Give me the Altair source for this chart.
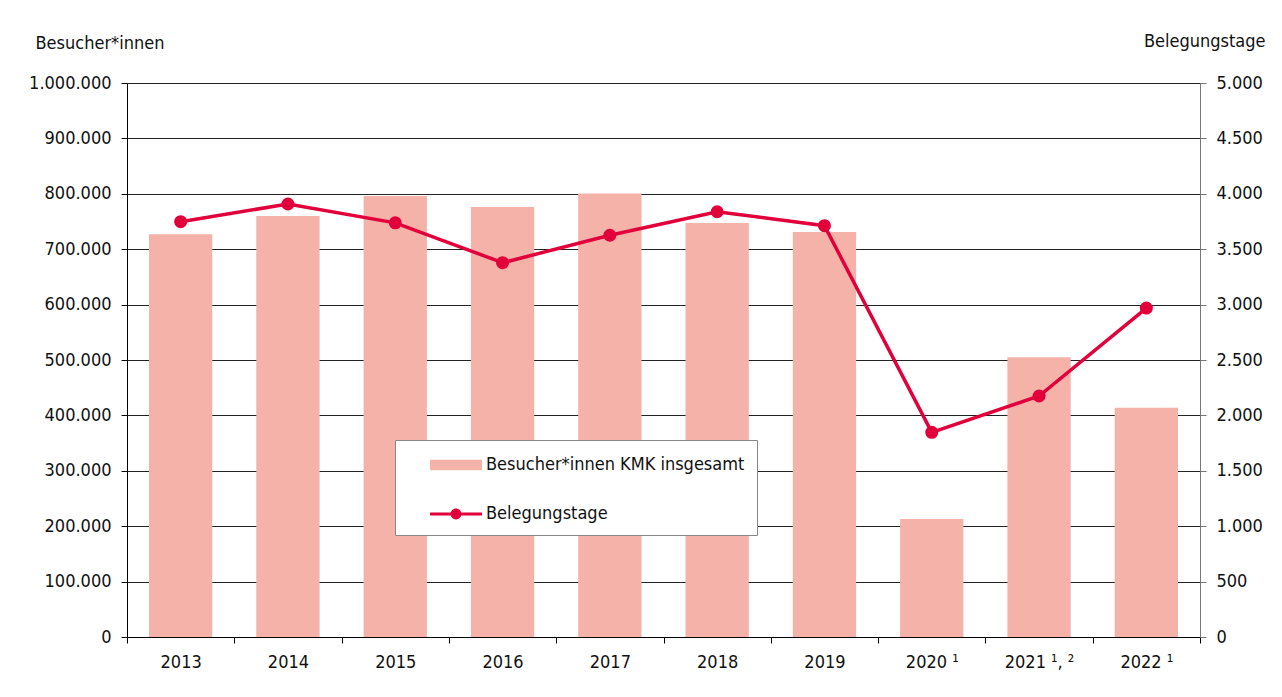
import altair as alt
import pandas as pd

years = ["2013", "2014", "2015", "2016", "2017", "2018", "2019",
         "2020 ¹", "2021 ¹, ²", "2022 ¹"]
visitors = [727000, 760000, 796000, 776000, 800500, 747500, 731000,
            213000, 505000, 414000]
occupancy_days = [3748, 3908, 3738, 3378, 3626, 3838, 3712, 1847, 2175, 2969]

BAR_NAME = "Besucher*innen KMK insgesamt"
LINE_NAME = "Belegungstage"
left_ticks = [0, 100000, 200000, 300000, 400000, 500000, 600000,
              700000, 800000, 900000, 1000000]
right_ticks = [0, 500, 1000, 1500, 2000, 2500, 3000, 3500, 4000, 4500, 5000]

PINK = "#F4B2A9"
RED = "#E2003B"
FONT = "DejaVu Sans Condensed, sans-serif"
FS = 18
FMT = "replace(format(datum.value, ','), regexp(',', 'g'), '.')"

df = pd.DataFrame({"year": years, "visitors": visitors, "days": occupancy_days})
legend_df = pd.DataFrame({"serie": [BAR_NAME, LINE_NAME]})

x_enc = alt.X(
    "year:N", sort=years, title=None,
    scale=alt.Scale(paddingInner=0, paddingOuter=0),
    axis=alt.Axis(tickBand="extent", labelAngle=0, labelFontSize=FS,
                  labelPadding=10, tickSize=6, domainColor="#000",
                  tickColor="#000", labelColor="#111", labelFont=FONT),
)

bars = alt.Chart(df).mark_bar(color=PINK, width=alt.RelativeBandSize(0.59)).encode(
    x=x_enc,
    y=alt.Y("visitors:Q", scale=alt.Scale(domain=[0, 1000000], nice=False),
            axis=alt.Axis(orient="left", values=left_ticks, labelExpr=FMT,
                          title="Besucher*innen", titleAngle=0, titleAlign="left",
                          titleBaseline="middle", titleX=-92, titleY=-40,
                          titleFontSize=FS, titleFontWeight="normal",
                          titleFont=FONT, titleColor="#111",
                          labelFontSize=FS, labelFont=FONT, labelColor="#111",
                          labelPadding=10, tickSize=6, grid=True,
                          gridColor="#222", gridWidth=1,
                          domainColor="#000", tickColor="#000")),
)

line = alt.Chart(df).mark_line(
    color=RED, strokeWidth=3.5,
    point=alt.OverlayMarkDef(filled=True, size=170, color=RED),
).encode(
    x=alt.X("year:N", sort=years),
    y=alt.Y("days:Q", scale=alt.Scale(domain=[0, 5000], nice=False),
            axis=alt.Axis(orient="right", values=right_ticks, labelExpr=FMT,
                          title="Belegungstage", titleAngle=0, titleAlign="right",
                          titleBaseline="middle", titleX=65, titleY=-42,
                          titleFontSize=FS, titleFontWeight=500,
                          titleFont=FONT, titleColor="#111",
                          labelFontSize=FS, labelFont=FONT, labelColor="#111",
                          labelPadding=10, tickSize=6, grid=False,
                          domainColor="#777", tickColor="#777")),
)

rect_path = "M-2,-0.4H2V0.4H-2Z"
line_path = ("M-2,-0.115H2V0.115H-2Z "
             "M0.42,0A0.42,0.42 0 1,1 -0.42,0A0.42,0.42 0 1,1 0.42,0Z")
leg = alt.Legend(orient="none", legendX=268, legendY=357, title=None,
                 padding=12, symbolOffset=36, labelOffset=17, rowPadding=27,
                 strokeColor="#888", fillColor="white", symbolSize=676,
                 symbolStrokeWidth=0, symbolOpacity=1, labelFontSize=FS,
                 labelFont=FONT, labelColor="#111", labelLimit=400,
                 labelExpr="datum.label + '\u00a0\u00a0\u00a0'")

legend_layer = alt.Chart(legend_df).mark_point(filled=True, opacity=0).encode(
    color=alt.Color("serie:N", scale=alt.Scale(domain=[BAR_NAME, LINE_NAME],
                                               range=[PINK, RED]), legend=leg),
    shape=alt.Shape("serie:N", scale=alt.Scale(domain=[BAR_NAME, LINE_NAME],
                                               range=[rect_path, line_path]), legend=leg),
)

chart = alt.layer(bars, line, legend_layer).resolve_scale(
    y="independent"
).properties(
    width=1073, height=554,
    autosize=alt.AutoSizeParams(type="none"),
    padding={"left": 119, "top": 75, "right": 66, "bottom": 44},
).configure_view(stroke=None).configure(background="white")

chart.save("out.html", embed_options={"renderer": "svg", "actions": False})
